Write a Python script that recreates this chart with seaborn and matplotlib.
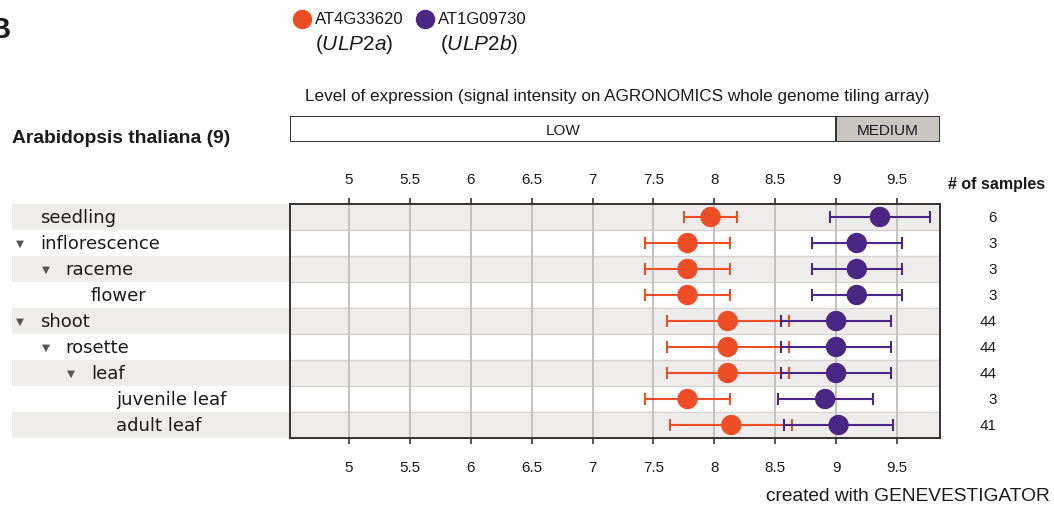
import matplotlib
matplotlib.use("Agg")
import matplotlib.pyplot as plt
from matplotlib import font_manager
from matplotlib.lines import Line2D
from matplotlib.patches import Rectangle
import numpy as np
import pandas as pd
import seaborn as sns

# ---- data -------------------------------------------------------------
tissues = ["seedling", "inflorescence", "raceme", "flower", "shoot",
           "rosette", "leaf", "juvenile leaf", "adult leaf"]
levels = [0, 0, 1, 2, 0, 1, 2, 3, 3]
expandable = [False, True, True, False, True, True, True, False, False]
n_samples = [6, 3, 3, 3, 44, 44, 44, 3, 41]

ulp2a_mean = [7.97, 7.78, 7.78, 7.78, 8.11, 8.11, 8.11, 7.78, 8.14]
ulp2a_err = [0.22, 0.35, 0.35, 0.35, 0.50, 0.50, 0.50, 0.35, 0.50]
ulp2b_mean = [9.36, 9.17, 9.17, 9.17, 9.00, 9.00, 9.00, 8.91, 9.02]
ulp2b_err = [0.41, 0.37, 0.37, 0.37, 0.45, 0.45, 0.45, 0.39, 0.45]

genes = ["AT4G33620", "AT1G09730"]
gene_names = ["ULP2a", "ULP2b"]
gene_colors = ["#ee4e26", "#4a2784"]

x_ticks = [5, 5.5, 6, 6.5, 7, 7.5, 8, 8.5, 9, 9.5]
x_tick_labels = ["5", "5.5", "6", "6.5", "7", "7.5", "8", "8.5", "9", "9.5"]
x_range = (4.516, 9.853)
level_bands = [("LOW", x_range[0], 9.0, "#ffffff"),
               ("MEDIUM", 9.0, x_range[1], "#c9c5c1")]

df = pd.DataFrame({
    "tissue": tissues * 2,
    "pos": list(range(len(tissues))) * 2,
    "gene": [genes[0]] * len(tissues) + [genes[1]] * len(tissues),
    "value": ulp2a_mean + ulp2b_mean,
    "err": ulp2a_err + ulp2b_err,
})

# ---- fonts ------------------------------------------------------------
def has_font(name):
    try:
        font_manager.findfont(name, fallback_to_default=False)
        return True
    except Exception:
        return False

sns.set_theme(style="white")
BASE = "Liberation Sans"
NARROW = "Liberation Sans Narrow" if has_font("Liberation Sans Narrow") else BASE
plt.rcParams["font.family"] = [BASE, "DejaVu Sans"]
plt.rcParams["mathtext.fontset"] = "custom"
plt.rcParams["mathtext.rm"] = BASE
plt.rcParams["mathtext.it"] = BASE + ":italic"

TXT = "#1a1a1a"

# ---- figure layout (pixel based) -------------------------------------
W, H = 1054, 510
fig = plt.figure(figsize=(W / 100, H / 100), dpi=100)
fig.patch.set_facecolor("white")

L, R, T, B = 290, 940, 205, 439
ax = fig.add_axes([L / W, 1 - B / H, (R - L) / W, (B - T) / H])

def fx(px):
    return px / W

def fy(py):
    return 1 - py / H

n = len(tissues)
ax.set_xlim(*x_range)
ax.set_ylim(n - 0.5, -0.5)

# alternating row bands, extended into the label column
ytr = ax.get_yaxis_transform()
label_left = (12 - L) / (R - L)
for i in range(n):
    if i % 2 == 0:
        ax.add_patch(Rectangle((label_left, i - 0.5), 1 - label_left, 1.0,
                               transform=ytr, facecolor="#efedec",
                               edgecolor="none", clip_on=False, zorder=0))
for i in range(1, n):
    ax.axhline(i - 0.5, color="#d6d4d2", lw=1.0, zorder=1)
for t in x_ticks:
    ax.axvline(t, color="#c4c2c0", lw=1.4, zorder=1)

# error bars and points
for g, col in zip(genes, gene_colors):
    sub = df[df["gene"] == g]
    ax.errorbar(sub["value"], sub["pos"], xerr=sub["err"], fmt="none",
                ecolor=col, elinewidth=1.5, capsize=4.3, capthick=1.5,
                zorder=3)
sns.scatterplot(data=df, x="value", y="pos", hue="gene", hue_order=genes,
                palette=gene_colors, s=215, linewidth=0, legend=False,
                ax=ax, zorder=4)

# frame and ticks
for sp in ax.spines.values():
    sp.set_visible(True)
    sp.set_color("#333333")
    sp.set_linewidth(1.4)
ax.set_xlabel("")
ax.set_ylabel("")
ax.set_yticks([])
ax.set_xticks(x_ticks)
ax.set_xticklabels(x_tick_labels, family=NARROW)
ax.tick_params(axis="x", direction="out", length=4, width=1.2,
               color="#333333", top=False, bottom=True, labeltop=False,
               labelbottom=True, labelsize=11, labelcolor=TXT, pad=11.5)

top = ax.secondary_xaxis("top")
top.set_xticks(x_ticks)
top.set_xticklabels(x_tick_labels, family=NARROW)
top.tick_params(axis="x", direction="out", length=4, width=1.2,
                color="#333333", labelsize=11, labelcolor=TXT, pad=9)
top.spines["top"].set_visible(False)

# row labels with tree indentation
for i, (name, lev, exp) in enumerate(zip(tissues, levels, expandable)):
    tx = 40 + 25.5 * lev
    ax.text((tx - L) / (R - L), i, name, transform=ytr, ha="left",
            va="center", fontsize=13, color=TXT, family=["DejaVu Sans"])
    if exp:
        ax.text((tx - 24 - L) / (R - L), i - 0.02, "\u25BC", transform=ytr,
                ha="left", va="center", fontsize=7.5, color="#555555",
                family=["DejaVu Sans"])

# sample counts
for i, c in enumerate(n_samples):
    ax.text((997 - L) / (R - L), i, str(c), transform=ytr, ha="right",
            va="center", fontsize=11, color=TXT, family=[NARROW])
fig.text(fx(948), fy(185), "# of samples", ha="left", va="center",
         fontsize=11.5, fontweight="bold", color=TXT, family=[NARROW])

# expression-level bar
bar = fig.add_axes([L / W, fy(143), (R - L) / W, 26 / H])
bar.set_xlim(*x_range)
bar.set_ylim(0, 1)
for lab, x0, x1, fc in level_bands:
    bar.barh(0.5, x1 - x0, left=x0, height=1.0, color=fc,
             edgecolor="#333333", linewidth=1.4)
    bar.text((x0 + x1) / 2, 0.48, lab, ha="center", va="center",
             fontsize=11, color=TXT, family=[NARROW])
bar.axis("off")

fig.text(fx(617), fy(97), "Level of expression (signal intensity on "
         "AGRONOMICS whole genome tiling array)", ha="center", va="center",
         fontsize=12.3, color=TXT, family=[NARROW])
fig.text(fx(12), fy(139), "Arabidopsis thaliana (9)", ha="left",
         va="center", fontsize=13.9, fontweight="bold", color=TXT)

# legend
for cx, col, g, nm, sx in zip([302, 425], gene_colors, genes, gene_names,
                              [354, 479]):
    fig.add_artist(Line2D([fx(cx)], [fy(20)], marker="o", markersize=13,
                          color=col, linestyle="none",
                          transform=fig.transFigure))
    fig.text(fx(cx + 13), fy(20), g, ha="left", va="center", fontsize=12,
             color=TXT)
    fig.text(fx(sx), fy(44), "($\\mathit{%s}$)" % nm, ha="center",
             va="center", fontsize=15, color=TXT)

fig.text(fx(11), fy(30), "B", ha="right", va="center", fontsize=21,
         fontweight="bold", color=TXT)
fig.text(fx(1050), fy(497), "created with GENEVESTIGATOR", ha="right",
         va="center", fontsize=13.8, color=TXT, family=[NARROW])

fig.savefig("out.png", dpi=100, facecolor="white")
